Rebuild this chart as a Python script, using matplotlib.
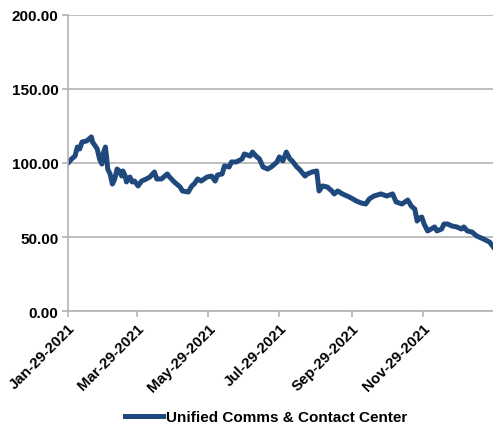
import matplotlib
matplotlib.use("Agg")
import matplotlib.pyplot as plt
import matplotlib.dates as mdates
import pandas as pd

plt.rcParams['font.family'] = ['Liberation Sans', 'DejaVu Sans']

# indexed price series (start = 100)
dates = [
    "2021-01-29", "2021-02-01", "2021-02-04", "2021-02-06", "2021-02-08", "2021-02-10",
    "2021-02-14", "2021-02-18", "2021-02-19", "2021-02-23", "2021-02-25", "2021-02-27",
    "2021-02-28", "2021-03-02", "2021-03-03", "2021-03-04", "2021-03-06", "2021-03-08",
    "2021-03-10", "2021-03-12", "2021-03-14", "2021-03-16", "2021-03-17", "2021-03-19",
    "2021-03-20", "2021-03-23", "2021-03-25", "2021-03-27", "2021-03-30", "2021-04-02",
    "2021-04-06", "2021-04-09", "2021-04-13", "2021-04-15", "2021-04-19", "2021-04-24",
    "2021-04-26", "2021-04-30", "2021-05-05", "2021-05-07", "2021-05-12", "2021-05-15",
    "2021-05-17", "2021-05-20", "2021-05-23", "2021-05-28", "2021-06-01", "2021-06-04",
    "2021-06-06", "2021-06-10", "2021-06-12", "2021-06-16", "2021-06-18", "2021-06-22",
    "2021-06-27", "2021-06-29", "2021-07-04", "2021-07-06", "2021-07-09", "2021-07-12",
    "2021-07-15", "2021-07-19", "2021-07-22", "2021-07-27", "2021-07-29", "2021-08-01",
    "2021-08-04", "2021-08-07", "2021-08-09", "2021-08-13", "2021-08-15", "2021-08-20",
    "2021-08-22", "2021-08-26", "2021-08-30", "2021-09-01", "2021-09-04", "2021-09-08",
    "2021-09-12", "2021-09-14", "2021-09-17", "2021-09-21", "2021-09-27", "2021-09-30",
    "2021-10-03", "2021-10-07", "2021-10-11", "2021-10-14", "2021-10-18", "2021-10-24",
    "2021-10-29", "2021-11-03", "2021-11-06", "2021-11-11", "2021-11-16", "2021-11-19",
    "2021-11-22", "2021-11-24", "2021-11-26", "2021-11-28", "2021-11-30", "2021-12-03",
    "2021-12-06", "2021-12-09", "2021-12-11", "2021-12-15", "2021-12-17", "2021-12-20",
    "2021-12-24", "2021-12-28", "2022-01-01", "2022-01-03", "2022-01-06", "2022-01-10",
    "2022-01-14", "2022-01-16", "2022-01-20", "2022-01-25", "2022-01-27", "2022-01-28",
]
values = [
    100.0, 102.7, 104.7, 110.8, 109.5, 114.2,
    114.9, 117.6, 114.2, 109.5, 102.7, 99.3,
    106.1, 110.8, 104.1, 95.9, 92.6, 85.8,
    89.2, 95.9, 94.6, 91.2, 94.6, 91.2,
    87.2, 90.5, 87.2, 87.8, 84.5, 87.8,
    89.2, 90.5, 93.9, 89.2, 89.2, 92.6,
    90.5, 87.2, 83.8, 81.1, 80.4, 84.5,
    85.8, 89.2, 87.8, 90.5, 91.2, 87.8,
    91.9, 92.6, 98.0, 97.3, 100.7, 100.7,
    102.7, 106.1, 104.7, 107.4, 104.7, 102.7,
    97.3, 95.9, 97.3, 100.7, 104.1, 101.4,
    107.4, 102.7, 101.4, 97.3, 95.9, 91.2,
    92.6, 93.9, 94.6, 81.1, 84.5, 83.8,
    81.1, 79.1, 81.1, 79.1, 77.0, 75.7,
    74.3, 73.0, 72.3, 75.7, 77.7, 79.1,
    77.7, 79.1, 73.7, 72.3, 75.0, 70.9,
    68.9, 60.8, 62.8, 63.5, 58.8, 54.1,
    55.4, 56.8, 54.1, 55.4, 58.8, 58.8,
    57.4, 56.8, 55.4, 56.8, 54.1, 53.4,
    50.7, 50.0, 48.6, 46.6, 44.6, 43.5,
]
series_name = "Unified Comms & Contact Center"
tick_dates = ["2021-01-29", "2021-03-29", "2021-05-29", "2021-07-29", "2021-09-29", "2021-11-29"]

x = pd.to_datetime(dates)
ticks = pd.to_datetime(tick_dates)

fig = plt.figure(figsize=(4.93, 4.31), dpi=100)
ax = fig.add_axes([0.138, 0.276, 0.862, 0.687])

ax.plot(x, values, color='#1F497D', lw=3.6, solid_joinstyle='round', label=series_name)

ax.set_ylim(0, 200)
ax.set_yticks([0, 50, 100, 150, 200])
ax.set_yticklabels([f"{v:.2f}" for v in [0, 50, 100, 150, 200]])
ax.set_xlim(pd.Timestamp("2021-01-29"), pd.Timestamp("2022-01-28"))
ax.set_xticks(ticks)
ax.xaxis.set_major_formatter(mdates.DateFormatter("%b-%d-%Y"))

ax.grid(axis='y', color='#B3B3B3', lw=1.2)
ax.set_axisbelow(True)
for s in ['top', 'right']:
    ax.spines[s].set_visible(False)
for s in ['left', 'bottom']:
    ax.spines[s].set_color('#B3B3B3')
    ax.spines[s].set_linewidth(1.2)
ax.tick_params(axis='both', colors='#B3B3B3', length=4, width=1.2)
ax.tick_params(axis='y', labelcolor='black', labelsize=11, pad=3)
ax.tick_params(axis='x', labelcolor='black', labelsize=10.8, pad=3)
for lbl in ax.get_yticklabels():
    lbl.set_fontweight('bold')
for lbl in ax.get_xticklabels():
    lbl.set_fontweight('bold')
    lbl.set_rotation(45)
    lbl.set_ha('right')
    lbl.set_rotation_mode('anchor')

fig.legend(loc='center', bbox_to_anchor=(0.54, 0.03), frameon=False,
           prop={'weight': 'bold', 'size': 11}, handlelength=2.5, handletextpad=0.2)

fig.savefig("out.png", dpi=100)
